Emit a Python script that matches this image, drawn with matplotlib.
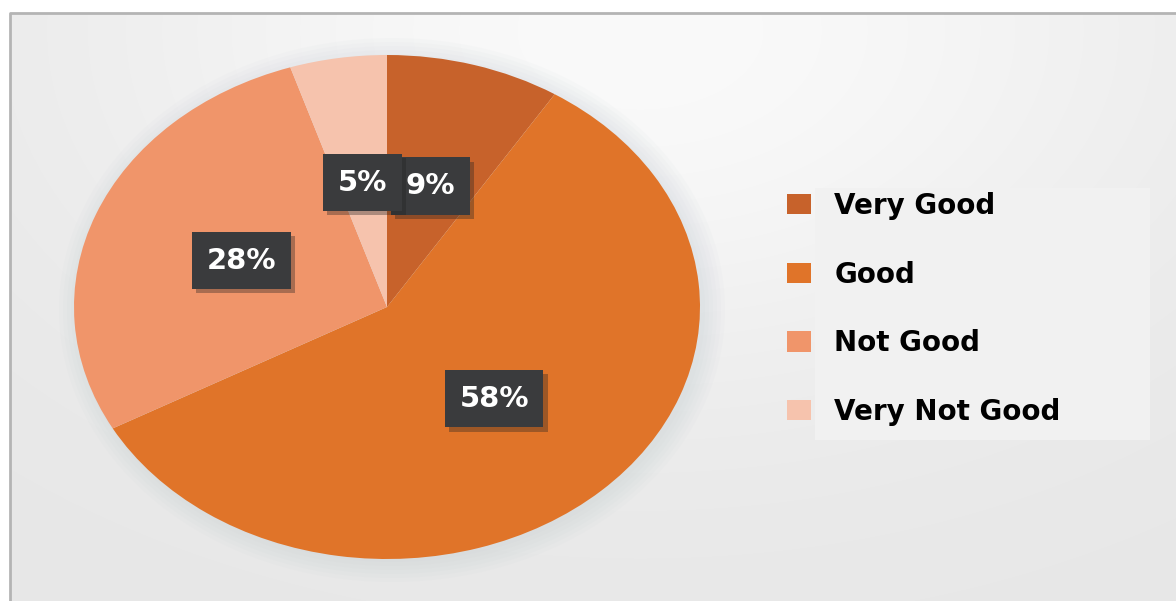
import matplotlib.pyplot as plt
import matplotlib.patheffects as pe
import numpy as np

categories = ['Very Good', 'Good', 'Not Good', 'Very Not Good']
shares = [9, 58, 28, 5]
colors = ['#c7622b', '#e07429', '#f0956a', '#f6c3ad']

W, H = 1176, 601
fig = plt.figure(figsize=(W / 100, H / 100), dpi=100)

# background panel with a soft light gradient
bg = fig.add_axes([0, 0, 1, 1])
bg.set_xlim(0, W)
bg.set_ylim(H, 0)
bg.axis('off')
yy, xx = np.mgrid[0:H, 0:W]
glow = np.exp(-(((xx - 640) / 560.0) ** 2 + ((yy - 30) / 360.0) ** 2))
shade = 0.905 + 0.075 * glow
img = np.dstack([shade, shade, shade])
img[:13, :] = 1.0
img[:, :10] = 1.0
bg.imshow(img, extent=(0, W, H, 0), aspect='auto', zorder=0)
bg.plot([10, 10, W], [H, 13, 13], color='#b4b4b4', lw=2, zorder=1)

# soft shadow around the pie
for k in range(6):
    e = plt.matplotlib.patches.Ellipse((392, 310), 2 * 313 + 8 * k, 2 * 252 + 8 * k,
                                       fc='#b9c4cc', ec='none', alpha=0.05, zorder=1)
    bg.add_patch(e)

# legend backing box
bg.add_patch(plt.Rectangle((815, 188), 335, 252, fc='#f1f1f1', ec='none', zorder=1))

# pie drawn as an ellipse (stretched axes)
cx, cy, rx, ry = 387, 307, 313, 252
ax = fig.add_axes([(cx - rx) / W, (H - cy - ry) / H, 2 * rx / W, 2 * ry / H])
wedges, texts, autotexts = ax.pie(
    shares, colors=colors, startangle=90, counterclock=False,
    autopct=lambda p: f'{p:.0f}%', pctdistance=0.5,
    wedgeprops=dict(linewidth=0),
    textprops=dict(color='white', fontsize=21, fontweight='bold',
                   family='DejaVu Sans'))
ax.set_aspect('auto')
ax.set_xlim(-1, 1)
ax.set_ylim(-1, 1)
ax.axis('off')
for i, t in enumerate(autotexts):
    t.set_bbox(dict(boxstyle='square,pad=0.5', fc='#3a3b3d', ec='none'))
    t.get_bbox_patch().set_path_effects([pe.SimplePatchShadow(offset=(3, -3), shadow_rgbFace='#222222', alpha=0.35),
                                         pe.Normal()])
    t.set_zorder(3 + i)

leg = fig.legend(wedges, categories, loc='upper left',
                 bbox_to_anchor=(762 / W, 1 - 167 / H), frameon=False,
                 prop=dict(family='DejaVu Sans', weight='heavy', size=20),
                 handlelength=0.85, handleheight=0.75, handletextpad=0.85,
                 labelspacing=1.46, borderpad=0.4)

fig.savefig('out.png', dpi=100)
